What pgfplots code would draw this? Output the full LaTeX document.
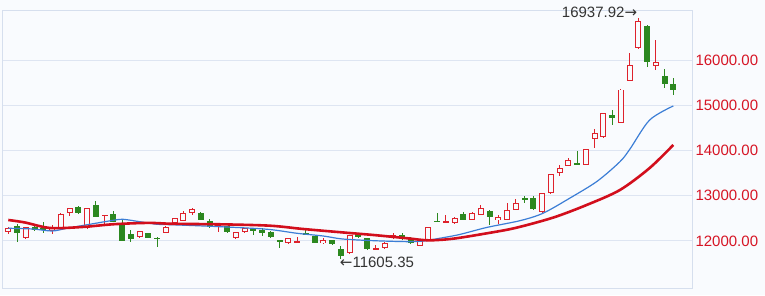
\documentclass[border=0pt]{standalone}
\usepackage{pgfplots}
\pgfplotsset{compat=1.18}
\usepackage{pgfplotstable}
\usepackage{fontspec}
\setmainfont{Liberation Sans}
\newfontfamily\symfont{DejaVu Sans}
\definecolor{bg}{RGB}{249,251,254}
\definecolor{framec}{RGB}{214,223,238}
\definecolor{gridc}{RGB}{222,229,242}
\definecolor{cR}{RGB}{222,34,44}
\definecolor{cG}{RGB}{44,136,32}
\definecolor{maB}{RGB}{60,126,214}
\definecolor{maR}{RGB}{210,14,28}
\definecolor{lab}{RGB}{214,20,36}
\definecolor{txt}{RGB}{51,51,51}

\pgfplotstableread{
i o h l c
0 12199 12320 12155 12287
2 12073 12320 12055 12303
5 12221 12354 12155 12294
6 12294 12608 12287 12597
7 12612 12740 12559 12736
9 12281 12730 12275 12723
11 12553 12580 12369 12575
15 12082 12230 12075 12221
18 12183 12325 12175 12316
19 12404 12510 12395 12502
20 12449 12670 12440 12612
21 12612 12723 12575 12701
24 12332 12360 12192 12354
26 12060 12200 12052 12192
27 12192 12290 12185 12281
32 11949 12068 11940 12060
33 11962 12095 11955 12000
36 11949 12073 11940 12022
39 11728 12140 11720 12133
42 11801 11912 11795 11839
43 11839 11970 11832 11962
44 12060 12170 12052 12133
47 11896 12045 11890 12038
48 12022 12318 12015 12309
50 12409 12575 12402 12435
51 12391 12522 12385 12515
53 12464 12648 12455 12612
54 12575 12796 12568 12723
56 12464 12575 12376 12530
57 12464 12833 12455 12674
58 12696 12928 12690 12833
61 12634 13060 12628 13054
62 13054 13480 13048 13474
63 13496 13680 13437 13624
64 13658 13834 13650 13790
66 13680 14035 13672 14027
67 14265 14469 14055 14380
68 14292 14830 14285 14822
70 14614 15355 14605 15348
71 15543 16148 15535 15890
72 16259 16937.92 16243 16869
74 15868 16442 15779 15949
}\redC

\pgfplotstableread{
i o h l c
1 12338 12369 11971 12170
3 12303 12338 12221 12243
4 12287 12420 12177 12243
8 12758 12774 12605 12612
10 12796 12891 12530 12537
12 12597 12670 12420 12427
13 12391 12464 12000 12007
14 12148 12243 11985 12044
16 12170 12180 12065 12073
17 12073 12080 11874 12051
22 12625 12648 12455 12464
23 12449 12480 12295 12303
25 12332 12340 12185 12192
28 12259 12281 12133 12236
29 12243 12281 12111 12170
30 12206 12215 12075 12082
31 12022 12030 11839 11985
34 12183 12243 12130 12139
35 12111 12118 11955 11962
37 12022 12030 11920 11927
38 11817 11890 11605.35 11669
40 12148 12170 12060 12095
41 12060 12068 11810 11817
45 12133 12183 12022 12060
46 12060 12082 11927 11949
49 12442 12608 12420 12427
52 12586 12641 12468 12475
55 12667 12675 12354 12541
59 12944 12995 12840 12906
60 12944 12995 12695 12701
65 13717 13996 13675 13680
69 14785 14895 14564 14718
73 16758 16770 15852 15963
75 15647 15795 15375 15470
76 15463 15596 15227 15337
}\greenC

\pgfplotstableread{
x v
0 12281
2.8 12265
5 12221
6.7 12281
9.3 12369
12 12457
13.1 12480
15 12427
17 12369
18.8 12358
24.2 12316
29.6 12259
33 12170
36 12110
38.2 12044
41.7 12007
45.6 11985
47.5 12000
49 12050
51.5 12140
54.7 12300
58.5 12450
61.1 12612
64.2 12950
67.3 13320
69.9 13752
71.05 14033
73.3 14674
76 14984
}\maBlue

\pgfplotstableread{
x v
0 12464
1.9 12409
4.8 12287
8.5 12310
12 12370
16 12400
18.8 12380
24.2 12369
29.9 12338
33.7 12265
38.3 12188
41.7 12133
45.6 12060
48 12015
50.8 12050
54.7 12170
58 12290
62.3 12519
66.1 12796
69.9 13127
73.3 13613
76 14122
}\maRed

\pgfplotsset{
  candle/.style n args={2}{draw=none, mark=none, forget plot,
    error bars/.cd, y dir=both, y explicit, error mark=none,
    error bar style={draw=#1, line width=#2, solid}},
}

\begin{document}
\begin{tikzpicture}
\useasboundingbox (-2pt,-7pt) rectangle (763pt,288pt);
\fill[bg] (-2pt,-7pt) rectangle (763pt,288pt);
\begin{axis}[
  scale only axis, width=690pt, height=278pt,
  xmin=-0.72, xmax=78.14, ymin=10961, ymax=17105,
  clip=false,
  axis line style={draw=framec, line width=1pt},
  xtick=\empty,
  ytick={12000,13000,14000,15000,16000},
  yticklabels={12000.00,13000.00,14000.00,15000.00,16000.00},
  scaled y ticks=false,
  ymajorgrids, grid style={draw=gridc, line width=1pt},
  major tick length=0pt,
  yticklabel pos=right,
  yticklabel style={font=\fontsize{15}{18}\selectfont, text=lab},
]
% red candles
\addplot[candle={cR}{1pt}]
  table[x=i, y expr={(\thisrow{h}+\thisrow{l})/2}, y error expr={(\thisrow{h}-\thisrow{l})/2}] {\redC};
\addplot[candle={cR}{6pt}]
  table[x=i, y expr={(\thisrow{o}+\thisrow{c})/2}, y error expr={max(abs(\thisrow{c}-\thisrow{o})/2,11)}] {\redC};
\addplot[candle={bg}{4pt}]
  table[x=i, y expr={(\thisrow{o}+\thisrow{c})/2}, y error expr={max(abs(\thisrow{c}-\thisrow{o})/2-22,0)}] {\redC};
% green candles
\addplot[candle={cG}{1pt}]
  table[x=i, y expr={(\thisrow{h}+\thisrow{l})/2}, y error expr={(\thisrow{h}-\thisrow{l})/2}] {\greenC};
\addplot[candle={cG}{6pt}]
  table[x=i, y expr={(\thisrow{o}+\thisrow{c})/2}, y error expr={max(abs(\thisrow{c}-\thisrow{o})/2,11)}] {\greenC};
% moving averages
\addplot[maB, line width=1.2pt, smooth, tension=0.5, mark=none] table[x=x, y=v] {\maBlue};
\addplot[maR, line width=2.6pt, smooth, tension=0.5, mark=none] table[x=x, y=v] {\maRed};
% annotations
\node[anchor=base east, text=txt, font=\fontsize{15}{18}\selectfont, inner sep=0pt, xshift=-1pt]
  at (axis cs:72,16937.92) {16937.92{\symfont →}};
\node[anchor=north west, text=txt, font=\fontsize{15}{18}\selectfont, inner sep=0pt, xshift=-1pt, yshift=2pt]
  at (axis cs:38,11605.35) {{\symfont ←}11605.35};
\end{axis}
\end{tikzpicture}
\end{document}
